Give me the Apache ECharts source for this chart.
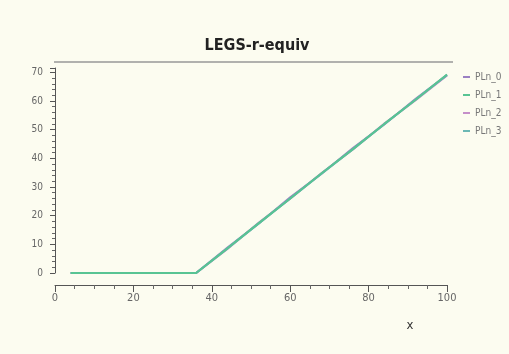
<!DOCTYPE html>
<html><head><meta charset="utf-8">
<script src="https://cdn.jsdelivr.net/npm/echarts@6/dist/echarts.min.js"></script>
<style>html,body{margin:0;padding:0;background:#fcfcf0}#c{width:509px;height:354px}</style>
</head><body><div id="c"></div>
<script>
const titleText = 'LEGS-r-equiv';
const seriesNames = ['PLn_0','PLn_1','PLn_2','PLn_3'];
const xValues = [4, 36, 44, 52, 60, 68, 76, 84, 92, 100];
const pln0 = [0, 0, 8.9, 17.3, 26.4, 34.6, 43.6, 51.8, 60.8, 69.0];
const pln1 = [0, 0, 8.6, 17.4, 26.0, 34.8, 43.2, 52.0, 60.4, 69.2];
const pln2 = [0, 0, 8.4, 17.6, 25.9, 34.9, 43.1, 52.1, 60.3, 68.9];
const pln3 = [0, 0, 8.6, 17.3, 26.0, 34.6, 43.2, 51.9, 60.5, 69.1];
const xTicks = [0, 20, 40, 60, 80, 100];
const yTicks = [0, 10, 20, 30, 40, 50, 60, 70];
const colors = ['#9a80c2', '#58c493', '#c58fc9', '#6cb8b4'];
const allVals = [pln0, pln1, pln2, pln3];

const font = '"Liberation Sans Narrow","Arial Narrow","DejaVu Sans Condensed",sans-serif';
const chart = echarts.init(document.getElementById('c'));
chart.setOption({
  backgroundColor: '#fcfcf0',
  animation: false,
  color: colors,
  title: {text: titleText, left: 252, textAlign: 'center', top: 33,
    textStyle: {fontFamily: font, fontSize: 16, fontWeight: 'bold', color: '#222'}},
  legend: {orient: 'vertical', left: 458, top: 67, itemWidth: 7, itemHeight: 2, itemGap: 8,
    icon: 'rect', data: seriesNames,
    textStyle: {fontFamily: font, fontSize: 10, color: '#777'}},
  grid: {left: 55, right: 62, top: 68, bottom: 81},
  xAxis: {type: 'value', min: xTicks[0], max: xTicks[xTicks.length-1], interval: 20, offset: 12,
    name: 'x', nameLocation: 'end', nameGap: -37,
    nameTextStyle: {fontFamily: font, fontSize: 13, color: '#333', verticalAlign: 'top', align: 'center', padding: [34, 0, 0, 0]},
    axisLine: {onZero: false, lineStyle: {color: '#555', width: 1}},
    axisTick: {show: true, length: 7, lineStyle: {color: '#555'}},
    minorTick: {show: true, splitNumber: 4, length: 4, lineStyle: {color: '#666'}},
    axisLabel: {fontFamily: font, fontSize: 11, color: '#666', margin: 8},
    splitLine: {show: false}},
  yAxis: {type: 'value', min: 0, max: 71.5, interval: 10, offset: 4,
    axisLine: {show: true, lineStyle: {color: '#555', width: 1}},
    axisTick: {show: true, length: 5, lineStyle: {color: '#555'}},
    minorTick: {show: true, splitNumber: 5, length: 3, lineStyle: {color: '#666'}},
    axisLabel: {fontFamily: font, fontSize: 10, color: '#666', margin: 8,
      formatter: v => yTicks.includes(v) ? String(v) : ''},
    splitLine: {show: false}},
  graphic: [{type: 'line', shape: {x1: 54, y1: 62, x2: 453, y2: 62},
    style: {stroke: '#999', lineWidth: 1.5}, silent: true}],
  series: seriesNames.map((n, i) => ({
    name: n, type: 'line', showSymbol: false, symbol: 'none',
    z: [3, 5, 2, 4][i],
    lineStyle: {width: 2, color: colors[i]},
    data: xValues.map((x, j) => [x, allVals[i][j]])
  }))
});
</script></body></html>
